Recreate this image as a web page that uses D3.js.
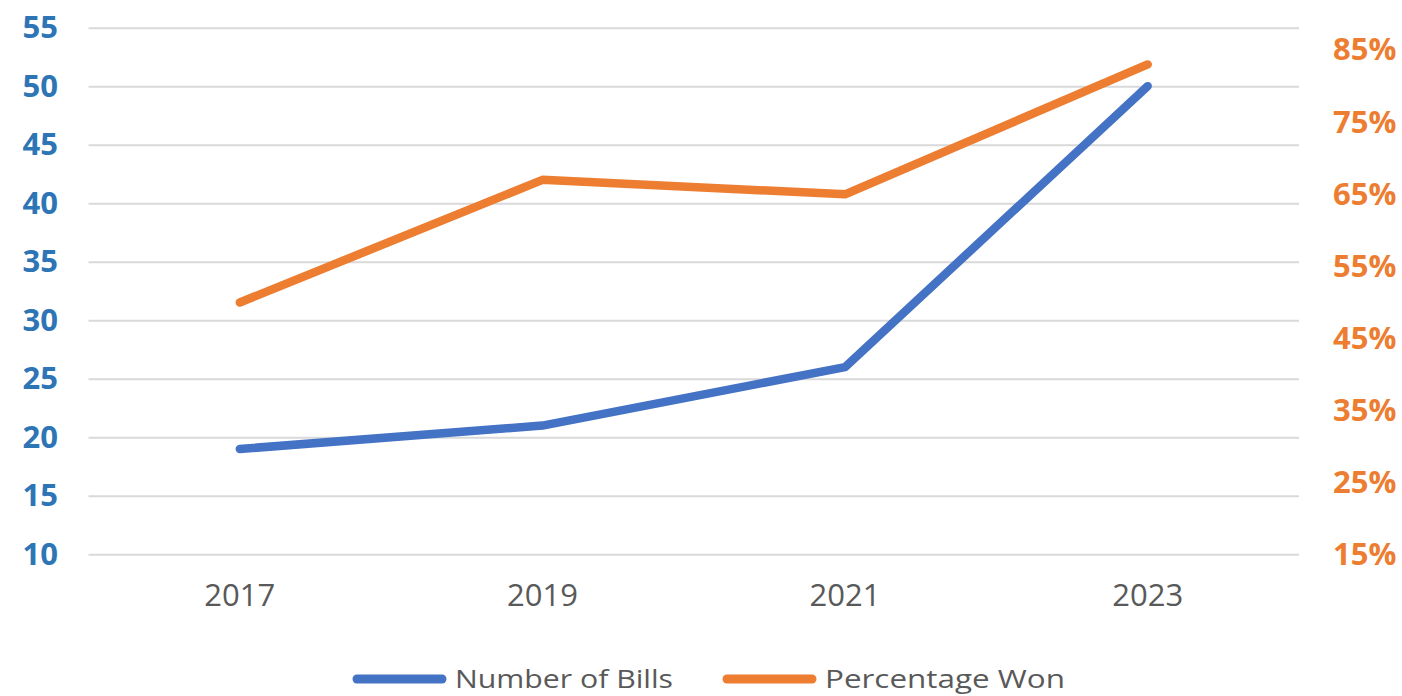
<!DOCTYPE html>
<html>
<head>
<meta charset="utf-8">
<script src="https://cdn.jsdelivr.net/npm/d3@7"></script>
<style>
  html, body { margin: 0; padding: 0; background: #fff; }
  svg { display: block; font-family: "Open Sans", "Liberation Sans", sans-serif; }
</style>
</head>
<body>
<div id="chart"></div>
<script>
const years = ['2017', '2019', '2021', '2023'];
const numberOfBills = [19, 21, 26, 50];
const percentageWon = [0.50, 0.67, 0.65, 0.83];
const leftTicks = [10, 15, 20, 25, 30, 35, 40, 45, 50, 55];
const rightTicks = [0.15, 0.25, 0.35, 0.45, 0.55, 0.65, 0.75, 0.85];
const seriesNames = ['Number of Bills', 'Percentage Won'];

const width = 1402, height = 696;
const blue = '#4472C4', orange = '#ED7D31';

const svg = d3.select('#chart')
  .append('svg')
  .attr('width', width)
  .attr('height', height);

const x = d3.scaleBand().domain(years).range([88.5, 1299]).padding(0);
const yL = d3.scaleLinear().domain([10, 55]).range([554.3, 27.7]);
const yR = d3.scaleLinear().domain([0.15, 0.85]).range([555, 50]);

// gridlines
svg.append('g')
  .attr('transform', `translate(${x.range()[0]},0)`)
  .call(d3.axisLeft(yL).tickValues(leftTicks).tickSize(-(x.range()[1] - x.range()[0])).tickFormat(''))
  .call(g => g.select('.domain').remove())
  .call(g => g.selectAll('line').attr('stroke', '#D9D9D9').attr('stroke-width', 2));

// left axis
svg.append('g')
  .attr('transform', 'translate(58,0)')
  .call(d3.axisLeft(yL).tickValues(leftTicks).tickSize(0).tickPadding(0))
  .call(g => g.select('.domain').remove())
  .call(g => g.selectAll('text')
    .attr('fill', '#2E75B6')
    .style('font-size', '31px')
    .style('font-weight', 'bold')
    .style('font-family', '"Open Sans", sans-serif'));

// right axis
svg.append('g')
  .attr('transform', 'translate(1333,0)')
  .call(d3.axisRight(yR).tickValues(rightTicks).tickSize(0).tickPadding(0).tickFormat(d3.format('.0%')))
  .call(g => g.select('.domain').remove())
  .call(g => g.selectAll('text')
    .attr('fill', orange)
    .style('font-size', '31px')
    .style('font-weight', 'bold')
    .style('font-family', '"Open Sans", sans-serif'));

// x axis
svg.append('g')
  .attr('transform', 'translate(0,572)')
  .call(d3.axisBottom(x).tickSize(0).tickPadding(12))
  .call(g => g.select('.domain').remove())
  .call(g => g.selectAll('text')
    .attr('fill', '#595959')
    .style('font-size', '31px')
    .style('font-family', '"Open Sans", sans-serif'));

const cx = d => x(d) + x.bandwidth() / 2;

const lineBills = d3.line()
  .x((d, i) => cx(years[i]))
  .y(d => yL(d));

const linePct = d3.line()
  .x((d, i) => cx(years[i]))
  .y(d => yR(d));

svg.append('path')
  .datum(numberOfBills)
  .attr('d', lineBills)
  .attr('fill', 'none')
  .attr('stroke', blue)
  .attr('stroke-width', 8.5)
  .attr('stroke-linecap', 'round')
  .attr('stroke-linejoin', 'round');

svg.append('path')
  .datum(percentageWon)
  .attr('d', linePct)
  .attr('fill', 'none')
  .attr('stroke', orange)
  .attr('stroke-width', 8.5)
  .attr('stroke-linecap', 'round')
  .attr('stroke-linejoin', 'round');

// legend
const legendItems = [
  { name: seriesNames[0], color: blue, x: 357, textLen: 218 },
  { name: seriesNames[1], color: orange, x: 727, textLen: 240 }
];
const legend = svg.append('g').attr('class', 'legend');
const items = legend.selectAll('g')
  .data(legendItems)
  .enter()
  .append('g')
  .attr('transform', d => `translate(${d.x},679)`);

items.append('line')
  .attr('x1', 0).attr('x2', 85)
  .attr('y1', 0).attr('y2', 0)
  .attr('stroke', d => d.color)
  .attr('stroke-width', 9)
  .attr('stroke-linecap', 'round');

items.append('text')
  .attr('x', 98)
  .attr('y', 9)
  .attr('fill', '#595959')
  .attr('textLength', d => d.textLen)
  .attr('lengthAdjust', 'spacingAndGlyphs')
  .style('font-size', '26px')
  .text(d => d.name);
</script>
</body>
</html>
